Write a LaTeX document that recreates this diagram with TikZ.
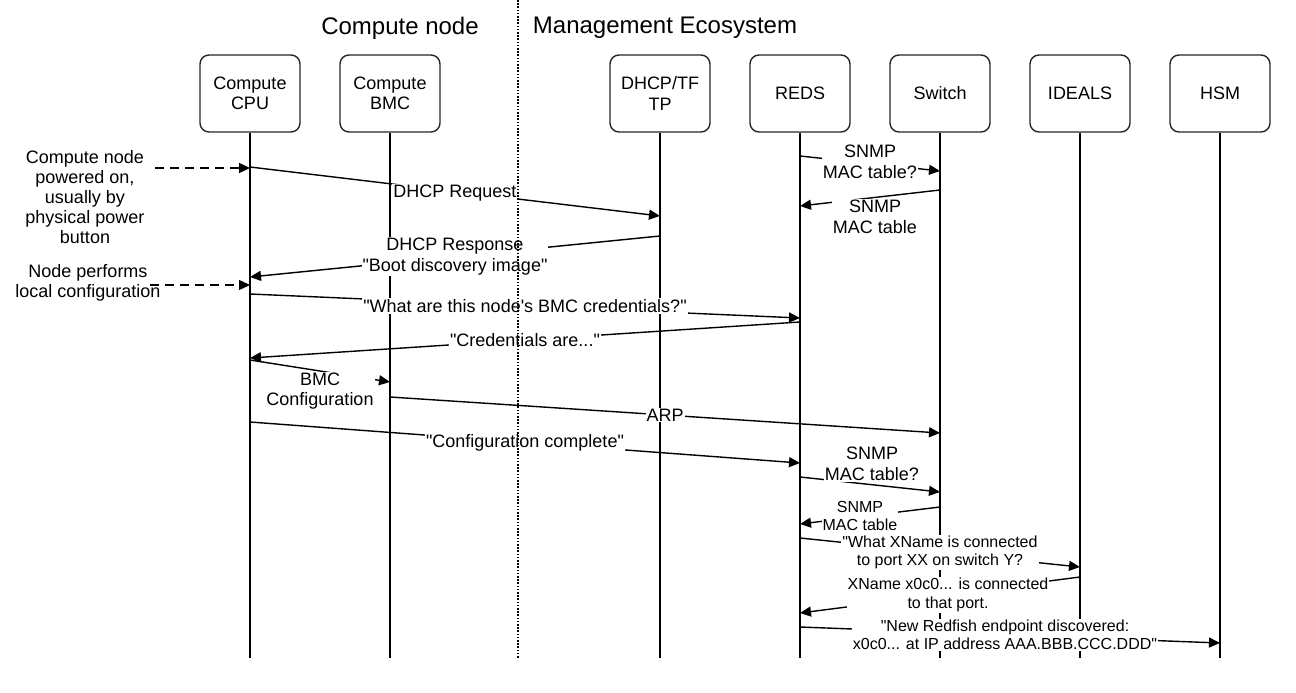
\documentclass[tikz,border=0pt]{standalone}
\usepackage{fontspec}
\setmainfont{Liberation Sans}[Ligatures=TeXOff]
\usetikzlibrary{arrows.meta}
\begin{document}
\begin{tikzpicture}[x=1pt,y=-1pt,
  lane/.style={draw=black!85, rounded corners=9pt, minimum width=100pt, minimum height=77pt, align=center, font=\fontsize{18}{20.5}\selectfont, line width=1.4pt},
  life/.style={line width=1.6pt},
  msg/.style={line width=1.4pt, -{Triangle[length=11pt,width=10pt]}},
  dmsg/.style={msg, dash pattern=on 9pt off 6pt},
  lbl/.style={fill=white, inner sep=1pt, align=center, font=\fontsize{18}{20.5}\selectfont},
  slbl/.style={fill=white, inner sep=1pt, align=center, font=\fontsize{16}{18.5}\selectfont},
  note/.style={inner sep=0pt, align=center, font=\fontsize{18}{20}\selectfont},
  title/.style={inner sep=0pt, font=\fontsize{24}{28}\selectfont},
]
\useasboundingbox (0,0) rectangle (1296,693);
% titles
\node[title] (tcn) at (400,28) {Compute node};
\node[title] (tme) at (665,28) {Management Ecosystem};
% participants
\node[lane] (cpu) at (250,93.5) {Compute\\CPU};
\node[lane] (bmc) at (390,93.5) {Compute\\BMC};
\node[lane] (dhcp) at (660,93.5) {DHCP/TF\\TP};
\node[lane] (reds) at (800,93.5) {REDS};
\node[lane] (sw) at (940,93.5) {Switch};
\node[lane] (ideals) at (1080,93.5) {IDEALS};
\node[lane] (hsm) at (1220,93.5) {HSM};
% lifelines
\foreach \n in {cpu,bmc,dhcp,reds,sw,ideals,hsm}
  \draw[life] (\n.south) -- (\n.south |- 0,658);
% notes
\node[note] (n1) at (85,197) {Compute node\\powered on,\\usually by\\physical power\\button};
\node[note] (n2) at (88,283) {Node performs\\local configuration};
\coordinate (n1e) at (155,168);
\coordinate (n2e) at (150,285);
\draw[dmsg] (n1e) -- (cpu |- n1e);
\draw[dmsg] (n2e) -- (cpu |- n2e);
% messages
\draw[msg] (reds |- 0,156) -- (sw |- 0,171);
\node[lbl] (l1) at (870,162) {SNMP\\MAC table?};
\draw[msg] (sw |- 0,190) -- (reds |- 0,206);
\node[lbl] (l2) at (875,217) {SNMP\\MAC table};
\draw[msg] (cpu |- 0,167) -- node[lbl, yshift=-2pt] (l3) {DHCP Request} (dhcp |- 0,216);
\draw[msg] (dhcp |- 0,236) -- node[lbl] (l4) {DHCP Response\\"Boot discovery image"} (cpu |- 0,277);
\draw[msg] (cpu |- 0,294) -- node[lbl] (l5) {"What are this node's BMC credentials?"} (reds |- 0,318);
\draw[msg] (reds |- 0,322) -- node[lbl] (l6) {"Credentials are..."} (cpu |- 0,358);
\draw[msg] (cpu |- 0,360) -- (bmc |- 0,382);
\node[lbl] (l7) at (320,391) {BMC\\Configuration};
\draw[msg] (bmc |- 0,397) -- node[lbl] (l8) {ARP} (sw |- 0,433);
\draw[msg] (cpu |- 0,422) -- node[lbl] (l9) {"Configuration complete"} (reds |- 0,463);
\draw[msg] (reds |- 0,477) -- (sw |- 0,492);
\node[lbl] (l10) at (872,464) {SNMP\\MAC table?};
\draw[msg] (sw |- 0,507) -- (reds |- 0,524);
\node[slbl] (l11) at (860,516) {SNMP\\MAC table};
\draw[msg] (reds |- 0,538) -- node[slbl] (l12) {"What XName is connected\\to port XX on switch Y?} (ideals |- 0,567);
\draw[msg] (ideals |- 0,577) -- node[slbl, xshift=8pt] (l13) {XName x0c0... is connected\\to that port.} (reds |- 0,613);
\draw[msg] (reds |- 0,627) -- node[slbl, xshift=-5pt] (l14) {"New Redfish endpoint discovered:\\x0c0... at IP address AAA.BBB.CCC.DDD"} (hsm |- 0,643);
% divider
\coordinate (dtop) at (518,0);
\coordinate (dbot) at (518,658);
\draw[line width=1.4pt, dash pattern=on 1.6pt off 1.6pt] (dtop) -- (dbot);
\end{tikzpicture}
\end{document}
